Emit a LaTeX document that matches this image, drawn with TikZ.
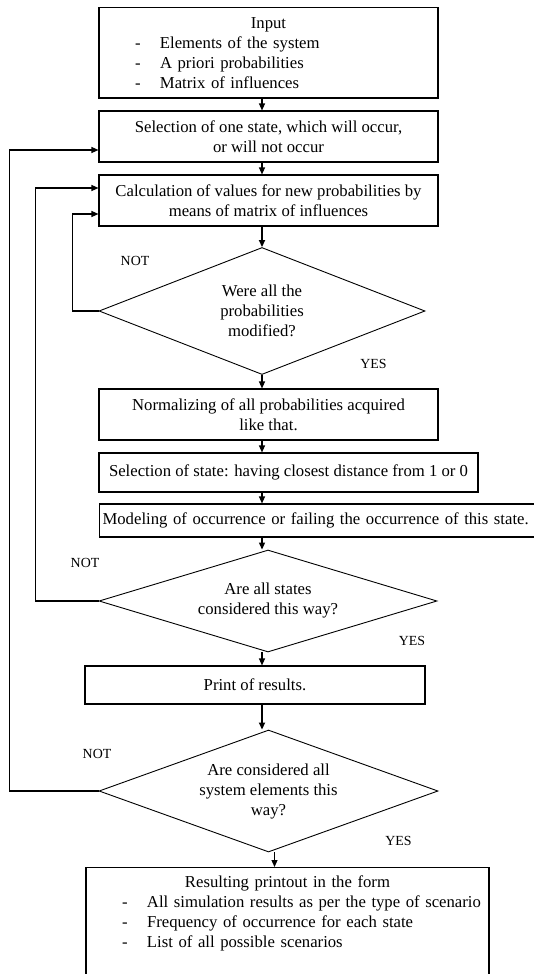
\documentclass[tikz,border=0pt]{standalone}
\usepackage{fontspec}
\setmainfont{Liberation Serif}
\usepackage{tikz}
\usetikzlibrary{arrows.meta, shapes.geometric}
\newcommand{\dashitem}[1]{\hspace*{36pt}\makebox[25pt][l]{-}#1}
\tikzset{
  stepbox/.style={draw, line width=1.1pt, align=center, inner sep=0pt,
                  font=\fontsize{16.7}{20}\selectfont},
  listbox/.style={stepbox, align=left},
  question/.style={draw, diamond, line width=0.9pt, align=center, inner sep=0pt,
                   font=\fontsize{16.7}{20}\selectfont},
  answer/.style={font=\fontsize{13.9}{16}\selectfont},
  flowarrow/.style={-{Triangle[length=7pt, width=6pt]}, line width=1.2pt},
  longarrow/.style={flowarrow, line width=1.8pt}
}

\begin{document}
\begin{tikzpicture}[x=1pt, y=-1pt]
\useasboundingbox (0,0) rectangle (534,974);

% Upper part of the loop
\node[listbox, text width=339pt, minimum height=90.5pt] (input) at (268.5,52.75)
  {\noindent\hfill Input\hfill\mbox{}\\
   \dashitem{Elements of the system}\\
   \dashitem{A priori probabilities}\\
   \dashitem{Matrix of influences}};
\node[stepbox, minimum width=339pt, minimum height=51pt] (select) at (268.5,136.5)
  {Selection of one state, which will occur,\\ or will not occur};
\node[stepbox, minimum width=339pt, minimum height=51pt] (calc) at (268.5,200.5)
  {Calculation of values for new probabilities by\\ means of matrix of influences};
\node[question, minimum width=326pt, minimum height=127pt, aspect=2.57] (modified) at (262,311)
  {Were all the\\ probabilities\\ modified?};

% Middle part
\node[stepbox, minimum width=339pt, minimum height=51pt] (normal) at (268.5,414.5)
  {Normalizing of all probabilities acquired\\ like that.};
\node[stepbox, minimum width=379pt, minimum height=39pt] (closest) at (288.5,472.5)
  {Selection of state: having closest distance from 1 or 0};
\node[listbox, anchor=west, text width=470pt, inner xsep=3pt, minimum height=33pt] (model) at (99,520.5)
  {Modeling of occurrence or failing the occurrence of this state.};
\node[question, minimum width=338pt, minimum height=102pt, aspect=3.3] (states) at (268,601)
  {Are all states\\ considered this way?};

% Lower part
\node[stepbox, minimum width=340pt, minimum height=38pt] (print) at (255,685)
  {Print of results.};
\node[question, minimum width=339pt, minimum height=122pt, aspect=2.78] (elements) at (268.5,791)
  {Are considered all\\ system elements this\\ way?};
\node[listbox, text width=403pt, anchor=north, inner ysep=8.5pt, text depth=110pt] (printout) at (287.5,867)
  {\noindent\hfill Resulting printout in the form\hfill\mbox{}\\
   \dashitem{All simulation results as per the type of scenario}\\
   \dashitem{Frequency of occurrence for each state}\\
   \dashitem{List of all possible scenarios}};

% Answers
\node[answer] (not1) at (135,261) {NOT};
\node[answer] (yes1) at (373.5,364) {YES};
\node[answer] (not2) at (85,563) {NOT};
\node[answer] (yes2) at (412,641) {YES};
\node[answer] (not3) at (97,754) {NOT};
\node[answer] (yes3) at (398.5,841) {YES};

% Arrows - main flow
\draw[flowarrow] (input.south -| modified) -- (select.north -| modified);
\draw[flowarrow] (select.south -| modified) -- (calc.north -| modified);
\draw[longarrow] (calc.south -| modified) -- (modified.north);
\draw[flowarrow] (modified.south) -- (normal.north -| modified);
\draw[flowarrow] (normal.south -| modified) -- (closest.north -| modified);
\draw[flowarrow] (closest.south -| modified) -- (model.north -| modified);
\draw[flowarrow] (model.south -| modified) -- (states.north -| modified);
\draw[flowarrow] (states.south -| modified) -- (print.north -| modified);
\draw[longarrow] (print.south -| modified) -- (elements.north -| modified);
\draw[flowarrow] ([xshift=6pt]elements.south) -- ([xshift=6pt]elements.south |- printout.north);

% Arrows - feedback (NOT)
\draw[flowarrow] (modified.west) -- ++(-26,0) |- ([yshift=-13.5pt]calc.west);
\draw[flowarrow] (states.west) -- ++(-63,0) |- ([yshift=12.5pt]calc.west);
\draw[flowarrow] (elements.west) -- ++(-89,0) |- ([yshift=-13.5pt]select.west);

\end{tikzpicture}
\end{document}
